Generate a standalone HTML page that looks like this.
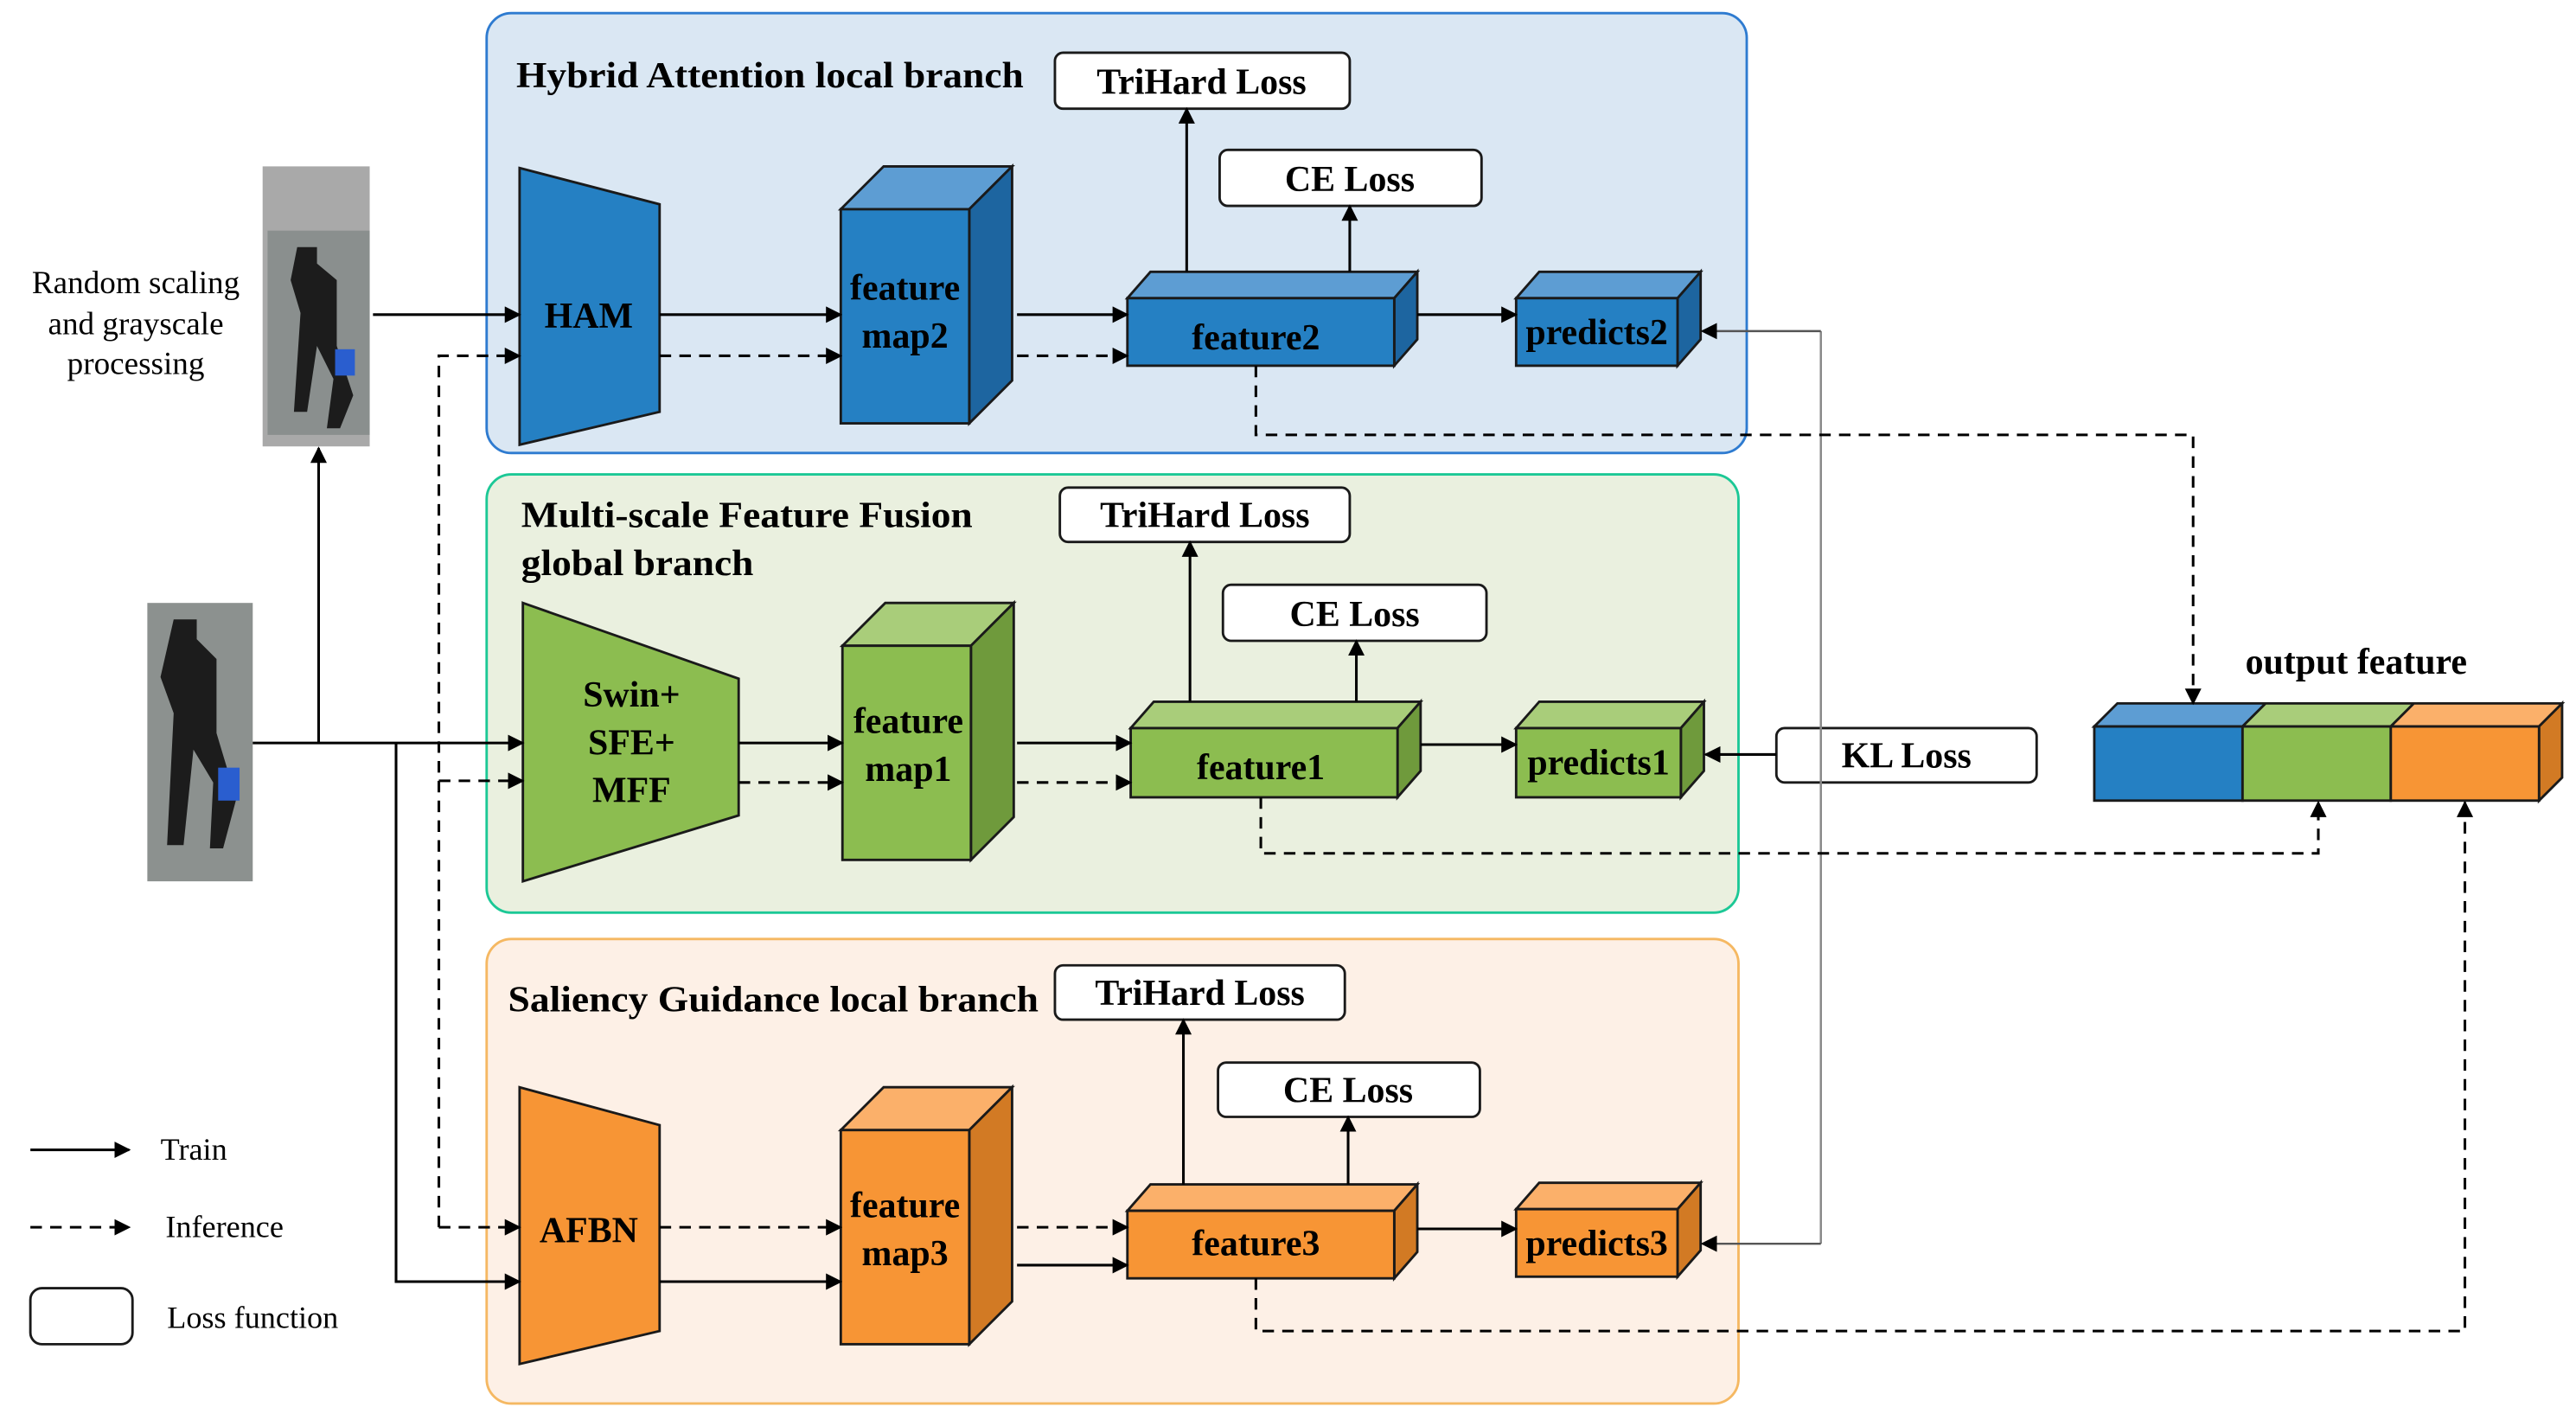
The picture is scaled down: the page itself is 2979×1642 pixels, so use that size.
<!DOCTYPE html>
<html><head><meta charset="utf-8"><style>html,body{margin:0;padding:0;background:#fff}svg{display:block}</style></head>
<body>
<svg width="2979" height="1642" viewBox="0 0 1563 862" xmlns="http://www.w3.org/2000/svg" font-family="Liberation Serif, serif">
<defs>
<marker id="a" markerWidth="10" markerHeight="10" refX="9" refY="5" orient="auto" markerUnits="userSpaceOnUse"><path d="M0,0 L10,5 L0,10 z" fill="#000"/></marker>
</defs>
<rect x="295" y="8" width="765" height="267" rx="15" fill="#dae7f3" stroke="#2e7bd0" stroke-width="1.5"/>
<rect x="295" y="288" width="760" height="266" rx="15" fill="#eaf0df" stroke="#1cc896" stroke-width="1.5"/>
<rect x="295" y="570" width="760" height="282" rx="15" fill="#fdf0e6" stroke="#f5b862" stroke-width="1.5"/>
<g font-weight="bold" font-size="22" fill="#000">
<text x="313" y="53" textLength="308" lengthAdjust="spacingAndGlyphs">Hybrid Attention local branch</text>
<text x="316" y="320" textLength="274" lengthAdjust="spacingAndGlyphs">Multi-scale Feature Fusion</text>
<text x="316" y="349" textLength="141" lengthAdjust="spacingAndGlyphs">global branch</text>
<text x="308" y="614" textLength="322" lengthAdjust="spacingAndGlyphs">Saliency Guidance local branch</text>
</g>
<rect x="159" y="101" width="65" height="170" fill="#a9a9a9"/>
<rect x="162" y="140" width="62" height="124" fill="#8a8f8e"/>
<path d="M180,150 h12 v10 l12,10 v40 l10,30 l-8,20 h-8 l4,-30 l-10,-20 l-6,40 h-8 l4,-60 l-6,-20z" fill="#1c1c1c"/>
<rect x="203" y="212" width="12" height="16" fill="#2a5ecf"/>
<rect x="89" y="366" width="64" height="169" fill="#8c918f"/>
<path d="M105,376 h14 v12 l12,12 v45 l12,40 l-8,30 h-8 l2,-40 l-12,-20 l-6,58 h-10 l4,-80 l-8,-22z" fill="#1c1c1c"/>
<rect x="132" y="466" width="13" height="20" fill="#2a5ecf"/>
<g font-size="19.5" text-anchor="middle">
<text x="82" y="178">Random scaling</text>
<text x="82" y="203">and grayscale</text>
<text x="82" y="227">processing</text>
</g>
<g stroke="#1a1a1a" stroke-width="1.5">
<polygon points="315,102 400,124 400,250 315,270" fill="#2580c3"/>
<polygon points="317,366 448,412 448,495 317,535" fill="#8cbd50"/>
<polygon points="315,660 400,683 400,808 315,828" fill="#f79535"/>
</g>
<g font-weight="bold" font-size="22" text-anchor="middle">
<text x="357" y="199">HAM</text>
<text x="383" y="429">Swin+</text><text x="383" y="458">SFE+</text><text x="383" y="487">MFF</text>
<text x="357" y="754">AFBN</text>
</g>
<g stroke="#1a1a1a" stroke-width="1.5">
<polygon points="510,127 536,101 614,101 588,127" fill="#5d9dd3"/><polygon points="588,127 614,101 614,231 588,257" fill="#1d65a0"/><rect x="510" y="127" width="78" height="130" fill="#2580c3"/>
<polygon points="511,392 537,366 615,366 589,392" fill="#a9cd7a"/><polygon points="589,392 615,366 615,496 589,522" fill="#6f9a3c"/><rect x="511" y="392" width="78" height="130" fill="#8cbd50"/>
<polygon points="510,686 536,660 614,660 588,686" fill="#fbb06a"/><polygon points="588,686 614,660 614,790 588,816" fill="#d27a24"/><rect x="510" y="686" width="78" height="130" fill="#f79535"/>
</g>
<g font-weight="bold" font-size="22" text-anchor="middle">
<text x="549" y="182">feature</text><text x="549" y="211">map2</text>
<text x="551" y="445">feature</text><text x="551" y="474">map1</text>
<text x="549" y="739">feature</text><text x="549" y="768">map3</text>
</g>
<g stroke="#1a1a1a" stroke-width="1.5">
<polygon points="684,181 698,165 860,165 846,181" fill="#5d9dd3"/><polygon points="846,181 860,165 860,206 846,222" fill="#1d65a0"/><rect x="684" y="181" width="162" height="41" fill="#2580c3"/>
<polygon points="686,442 700,426 862,426 848,442" fill="#a9cd7a"/><polygon points="848,442 862,426 862,468 848,484" fill="#6f9a3c"/><rect x="686" y="442" width="162" height="42" fill="#8cbd50"/>
<polygon points="684,735 698,719 860,719 846,735" fill="#fbb06a"/><polygon points="846,735 860,719 860,760 846,776" fill="#d27a24"/><rect x="684" y="735" width="162" height="41" fill="#f79535"/>
<polygon points="920,181 934,165 1032,165 1018,181" fill="#5d9dd3"/><polygon points="1018,181 1032,165 1032,206 1018,222" fill="#1d65a0"/><rect x="920" y="181" width="98" height="41" fill="#2580c3"/>
<polygon points="920,442 934,426 1034,426 1020,442" fill="#a9cd7a"/><polygon points="1020,442 1034,426 1034,468 1020,484" fill="#6f9a3c"/><rect x="920" y="442" width="100" height="42" fill="#8cbd50"/>
<polygon points="920,734 934,718 1032,718 1018,734" fill="#fbb06a"/><polygon points="1018,734 1032,718 1032,759 1018,775" fill="#d27a24"/><rect x="920" y="734" width="98" height="41" fill="#f79535"/>
<polygon points="1271,441 1285,427 1375,427 1361,441" fill="#5d9dd3"/><rect x="1271" y="441" width="90" height="45" fill="#2580c3"/>
<polygon points="1361,441 1375,427 1465,427 1451,441" fill="#a9cd7a"/><rect x="1361" y="441" width="90" height="45" fill="#8cbd50"/>
<polygon points="1451,441 1465,427 1555,427 1541,441" fill="#fbb06a"/><polygon points="1541,441 1555,427 1555,472 1541,486" fill="#d27a24"/><rect x="1451" y="441" width="90" height="45" fill="#f79535"/>
</g>
<g font-weight="bold" font-size="22" text-anchor="middle">
<text x="762" y="212">feature2</text><text x="765" y="473">feature1</text><text x="762" y="762">feature3</text>
<text x="969" y="209">predicts2</text><text x="970" y="470">predicts1</text><text x="969" y="762">predicts3</text>
<text x="1430" y="409">output feature</text>
</g>
<g fill="#fff" stroke="#1a1a1a" stroke-width="1.5">
<rect x="640" y="32" width="179" height="34" rx="5"/><rect x="740" y="91" width="159" height="34" rx="5"/>
<rect x="643" y="296" width="176" height="33" rx="5"/><rect x="742" y="355" width="160" height="34" rx="5"/>
<rect x="640" y="586" width="176" height="33" rx="5"/><rect x="739" y="645" width="159" height="33" rx="5"/>
<rect x="1078" y="442" width="158" height="33" rx="5"/>
<rect x="18" y="782" width="62" height="34" rx="7"/>
</g>
<g font-weight="bold" font-size="22" text-anchor="middle">
<text x="729" y="57">TriHard Loss</text><text x="819" y="116">CE Loss</text>
<text x="731" y="320">TriHard Loss</text><text x="822" y="380">CE Loss</text>
<text x="728" y="610">TriHard Loss</text><text x="818" y="669">CE Loss</text>
<text x="1157" y="466">KL Loss</text>
</g>
<g stroke="#000" stroke-width="1.6" fill="none" marker-end="url(#a)">
<line x1="226" y1="191" x2="315" y2="191"/>
<line x1="153" y1="451" x2="317" y2="451"/>
<polyline points="193,451 193,272"/>
<polyline points="240,451 240,778 315,778"/>
<line x1="400" y1="191" x2="510" y2="191"/><line x1="617" y1="191" x2="684" y2="191"/>
<line x1="720" y1="165" x2="720" y2="66"/><line x1="819" y1="165" x2="819" y2="125"/>
<line x1="860" y1="191" x2="920" y2="191"/>
<line x1="448" y1="451" x2="511" y2="451"/><line x1="617" y1="451" x2="686" y2="451"/>
<line x1="722" y1="426" x2="722" y2="329"/><line x1="823" y1="426" x2="823" y2="389"/>
<line x1="862" y1="452" x2="920" y2="452"/>
<line x1="400" y1="778" x2="510" y2="778"/><line x1="617" y1="768" x2="684" y2="768"/>
<line x1="718" y1="719" x2="718" y2="619"/><line x1="818" y1="719" x2="818" y2="678"/>
<line x1="860" y1="746" x2="920" y2="746"/>
<line x1="1078" y1="458" x2="1035" y2="458"/>
<line x1="18" y1="698" x2="78" y2="698"/>
</g>
<g stroke="#888" stroke-width="1.3" fill="none">
<polyline points="1105,201 1105,755"/>
</g>
<g stroke="#555" stroke-width="1.3" fill="none" marker-end="url(#a)">
<line x1="1105" y1="201" x2="1033" y2="201"/><line x1="1105" y1="755" x2="1033" y2="755"/>
</g>
<g stroke="#000" stroke-width="1.6" fill="none" stroke-dasharray="7,5" marker-end="url(#a)">
<polyline points="266,745 266,216 315,216"/>
<line x1="266" y1="474" x2="317" y2="474"/>
<line x1="266" y1="745" x2="315" y2="745"/>
<line x1="400" y1="216" x2="510" y2="216"/><line x1="617" y1="216" x2="684" y2="216"/>
<line x1="448" y1="475" x2="511" y2="475"/><line x1="617" y1="475" x2="686" y2="475"/>
<line x1="400" y1="745" x2="510" y2="745"/><line x1="617" y1="745" x2="684" y2="745"/>
<polyline points="762,222 762,264 1331,264 1331,427"/>
<polyline points="765,484 765,518 1407,518 1407,487"/>
<polyline points="762,776 762,808 1496,808 1496,487"/>
<line x1="18" y1="745" x2="78" y2="745"/>
</g>
<g font-size="19">
<text x="97" y="704">Train</text><text x="100" y="751">Inference</text><text x="101" y="806">Loss function</text>
</g>
</svg>
</body></html>
